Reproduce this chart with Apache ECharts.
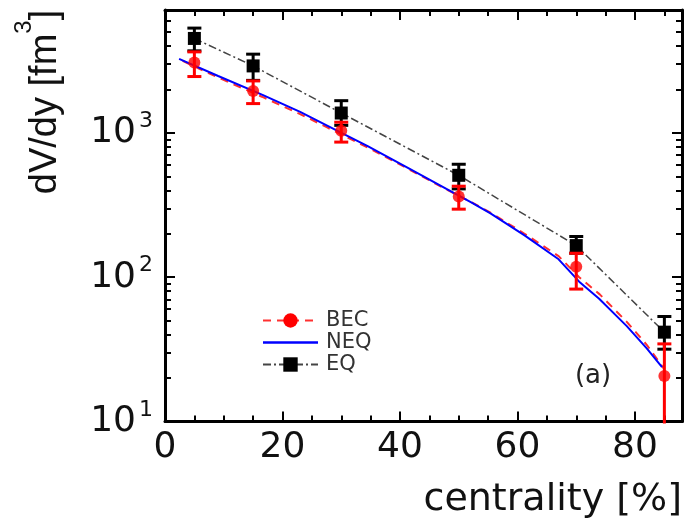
<!DOCTYPE html>
<html>
<head>
<meta charset="utf-8">
<script src="https://cdn.jsdelivr.net/npm/echarts@6/dist/echarts.min.js"></script>
<style>html,body{margin:0;padding:0;background:#fff}#c{width:685px;height:520px}</style>
</head>
<body>
<div id="c"></div>
<script>
// ---- data ----
const centrality = [5, 15, 30, 50, 70, 85];
const becValues = [3070, 1950, 1035, 362, 118, 20.7];
const becLow    = [2456, 1595, 863, 296, 82.7, 6.9];
const becHigh   = [3640, 2290, 1185, 427, 146.5, 34.5];
const eqValues  = [4510, 2910, 1372, 508, 165.5, 41.6];
const eqLow     = [3700, 2310, 1127, 409, 146.5, 31.7];
const eqHigh    = [5320, 3510, 1671, 606, 191.4, 53.4];

const neqX = [2.4, 9.05, 16.6, 23.0, 27.6, 34.5, 41.5, 47.9, 52.2, 55.4, 61.2, 67.0, 70.5, 73.9, 78.6, 82.0, 84.6];
const neqY = [3254, 2477, 1833, 1396, 1122, 808, 567, 409, 329, 277, 195, 133, 93.1, 70.9, 45.8, 32.1, 23.8];
const becCurveX = [3.0, 9.0, 16.5, 23.0, 27.6, 34.5, 41.5, 47.9, 52.2, 55.4, 61.2, 67.0, 70.5, 74.0, 78.6, 82.0, 85.0];
const becCurveY = [3150, 2420, 1780, 1350, 1090, 790, 560, 405, 330, 280, 200, 140, 100, 76, 49, 34, 23];

const xMajorTicks = [0, 20, 40, 60, 80];
const xMinorTicks = [5, 10, 15, 25, 30, 35, 45, 50, 55, 65, 70, 75, 85];
const xTickLabels = [0, 20, 40, 60, 80];
const yMajorTicks = [10, 100, 1000];
const yMinorTicks = [20, 30, 40, 50, 60, 70, 80, 90, 200, 300, 400, 500, 600, 700, 800, 900, 2000, 3000, 4000, 5000, 6000];
const yTickLabels = [10, 100, 1000];
const yTickExponents = ['1', '2', '3'];

const legendNames = ['BEC', 'NEQ', 'EQ'];
const xTitle = 'centrality [%]';
const yTitleMain = 'dV/dy [fm';
const yTitleSup = '3';
const yTitleEnd = ']';
const panelLabel = '(a)';

// ---- chart ----
const FONT = "'DejaVu Sans'";
const chart = echarts.init(document.getElementById('c'), null, {renderer: 'canvas'});

const XMIN = 0, XMAX = 88, YMIN = 10, YMAX = 7100;

function xAxisDef(pos, ticks, len, showLine, showLabel) {
  return {
    type: 'value', position: pos, min: XMIN, max: XMAX,
    axisLine: {show: showLine, onZero: false, lineStyle: {color: '#000', width: 3}},
    axisTick: {show: true, inside: true, length: len, customValues: ticks, lineStyle: {color: '#000', width: 2}},
    axisLabel: showLabel ? {show: true, customValues: xTickLabels, fontSize: 36, fontFamily: FONT, color: '#111', margin: 8} : {show: false},
    splitLine: {show: false}
  };
}
function yAxisDef(pos, ticks, len, showLine, showLabel) {
  return {
    type: 'log', logBase: 10, position: pos, min: YMIN, max: YMAX,
    axisLine: {show: showLine, onZero: false, lineStyle: {color: '#000', width: 3}},
    axisTick: {show: true, inside: true, length: len, customValues: ticks, lineStyle: {color: '#000', width: 2}},
    axisLabel: showLabel ? {
      show: true, customValues: yTickLabels, margin: 12,
      formatter: function (v) {
        const i = yTickLabels.indexOf(v);
        return '{b|10}{s|' + (i >= 0 ? yTickExponents[i] : '') + '}';
      },
      rich: {
        b: {fontSize: 36, fontFamily: FONT, color: '#111'},
        s: {fontSize: 22, fontFamily: FONT, color: '#111', padding: [0, 0, 23, 3]}
      }
    } : {show: false},
    splitLine: {show: false}
  };
}

function errorBarSeries(name, low, high, color, z) {
  const data = centrality.map((c, i) => [c, low[i], high[i]]);
  return {
    name: name, type: 'custom', z: z, silent: true,
    encode: {x: 0, y: [1, 2]},
    data: data,
    renderItem: function (params, api) {
      const x = api.value(0), lo = api.value(1), hi = api.value(2);
      const pHi = api.coord([x, hi]);
      const pLo = api.coord([x, lo]);
      const cs = params.coordSys;
      const bottom = cs.y + cs.height;
      const clipped = pLo[1] > bottom;
      const yLo = clipped ? bottom + 2 : pLo[1];
      const hw = 7;
      const st = {stroke: color, lineWidth: 3};
      const children = [
        {type: 'line', shape: {x1: pHi[0], y1: pHi[1], x2: pHi[0], y2: yLo}, style: st},
        {type: 'line', shape: {x1: pHi[0] - hw, y1: pHi[1], x2: pHi[0] + hw, y2: pHi[1]}, style: st}
      ];
      if (!clipped) children.push({type: 'line', shape: {x1: pLo[0] - hw, y1: pLo[1], x2: pLo[0] + hw, y2: pLo[1]}, style: st});
      return {type: 'group', children: children};
    }
  };
}

const option = {
  animation: false,
  backgroundColor: '#fff',
  grid: {left: 165, right: 3, top: 10, bottom: 98.5, containLabel: false, outerBoundsMode: 'none'},
  xAxis: [
    xAxisDef('bottom', xMajorTicks, 10, true, true),
    xAxisDef('bottom', xMinorTicks, 6, false, false),
    xAxisDef('top', xMajorTicks, 10, true, false),
    xAxisDef('top', xMinorTicks, 6, false, false)
  ],
  yAxis: [
    yAxisDef('left', yMajorTicks, 10, true, true),
    yAxisDef('left', yMinorTicks, 6, false, false),
    yAxisDef('right', yMajorTicks, 10, true, false),
    yAxisDef('right', yMinorTicks, 6, false, false)
  ],
  legend: {
    data: [
      {name: legendNames[0]},
      {name: legendNames[1], icon: 'path://M0,0L55,0L55,2.5L0,2.5Z'},
      {name: legendNames[2]}
    ],
    orient: 'vertical', left: 257, top: 305,
    itemWidth: 55, itemHeight: 18, itemGap: 1,
    selectedMode: false,
    textStyle: {fontSize: 21, fontFamily: FONT, color: '#333', padding: [0, 0, 0, 3]}
  },
  graphic: [
    {type: 'text', x: 682, y: 500, silent: true,
     style: {text: xTitle, font: "38px 'DejaVu Sans'", fill: '#111', align: 'right', verticalAlign: 'middle'}},
    {type: 'text', x: 46, y: 102, rotation: Math.PI / 2, silent: true,
     style: {text: yTitleMain + '{s|' + yTitleSup + '}' + yTitleEnd, font: "38px 'Liberation Sans'", fill: '#111',
             align: 'center', verticalAlign: 'middle',
             rich: {s: {font: "24px 'Liberation Sans'", fill: '#111', padding: [0, 0, 44, 0]}}}},
    {type: 'text', x: 593, y: 376.5, silent: true,
     style: {text: panelLabel, font: "26px 'DejaVu Sans'", fill: '#222', align: 'center', verticalAlign: 'middle'}}
  ],
  series: [
    {
      name: legendNames[0], type: 'line', z: 2, silent: true,
      data: becCurveX.map((x, i) => [x, becCurveY[i]]),
      symbol: 'circle', showSymbol: false,
      itemStyle: {color: '#ff0000'},
      lineStyle: {color: '#ff3030', width: 2, type: [8, 6]}
    },
    {
      name: legendNames[1], type: 'line', z: 3, silent: true,
      data: neqX.map((x, i) => [x, neqY[i]]),
      showSymbol: false, symbol: 'none',
      itemStyle: {color: '#0000ff'},
      lineStyle: {color: '#0000ff', width: 2}
    },
    {
      name: legendNames[2], type: 'line', z: 4, silent: true,
      data: centrality.map((x, i) => [x, eqValues[i]]),
      symbol: 'rect', symbolSize: 13, showSymbol: true,
      itemStyle: {color: '#000'},
      lineStyle: {color: '#444', width: 1.5, type: [8, 3, 2, 3]}
    },
    errorBarSeries('EQ err', eqLow, eqHigh, '#000', 5),
    errorBarSeries('BEC err', becLow, becHigh, '#ff0000', 6),
    {
      name: 'BEC points', type: 'scatter', z: 7, silent: true,
      data: centrality.map((x, i) => [x, becValues[i]]),
      symbol: 'circle', symbolSize: 12,
      itemStyle: {color: '#ff0000'}
    }
  ]
};
chart.setOption(option);
</script>
</body>
</html>
